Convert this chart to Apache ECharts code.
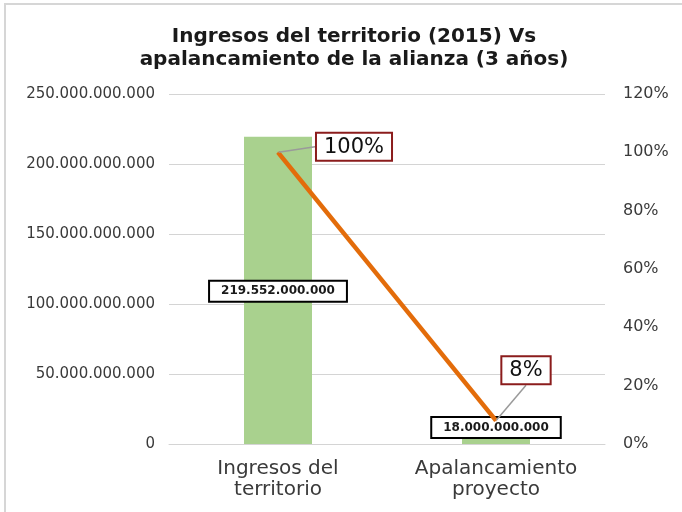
<!DOCTYPE html>
<html>
<head>
<meta charset="utf-8">
<script src="https://cdn.jsdelivr.net/npm/echarts@6/dist/echarts.min.js"></script>
<style>html,body{margin:0;padding:0;background:#fff}#c{width:682px;height:512px}</style>
</head>
<body>
<div id="c"></div>
<script>
const titleText = 'Ingresos del territorio (2015) Vs\napalancamiento de la alianza (3 años)';
const categories = ['Ingresos del\nterritorio', 'Apalancamiento\nproyecto'];
const amounts = [219552000000, 18000000000];
const shares = [1.00, 0.08];
const leftMin = 0, leftMax = 250000000000, leftStep = 50000000000;
const rightMin = 0, rightMax = 1.2, rightStep = 0.2;
// label nudges (pixels) for the percentage callouts and amount boxes
const shareLabelShift = [[76, 13], [30, -32]];
const amountLabelShift = [[0, 1], [0, -4]];

function dots(v) {
  return String(Math.round(v)).replace(/\B(?=(\d{3})+(?!\d))/g, '.');
}
const FONT = 'DejaVu Sans';
const chart = echarts.init(document.getElementById('c'), null, {renderer: 'canvas'});
chart.setOption({
  backgroundColor: '#ffffff',
  animation: false,
  textStyle: {fontFamily: FONT},
  graphic: [{
    type: 'rect', shape: {x: 5, y: 4, width: 720, height: 560},
    style: {fill: 'none', stroke: '#d6d6d6', lineWidth: 2}, silent: true
  }],
  title: {
    text: titleText, left: 349, top: 20, textAlign: 'center', padding: 5,
    textStyle: {fontFamily: FONT, fontWeight: 'bold', fontSize: 20, lineHeight: 23, color: '#1a1a1a'}
  },
  grid: {left: 169, right: 77, top: 94, bottom: 68, containLabel: false},
  xAxis: {
    type: 'category', data: categories,
    axisLine: {show: true, lineStyle: {color: '#d4d4d4', width: 1}},
    axisTick: {show: false},
    axisLabel: {color: '#3a3a3a', fontSize: 20, lineHeight: 21, margin: 14, fontFamily: FONT}
  },
  yAxis: [{
    type: 'value', min: leftMin, max: leftMax, interval: leftStep,
    axisLine: {show: false}, axisTick: {show: false},
    splitLine: {lineStyle: {color: '#d4d4d4', width: 1}},
    axisLabel: {color: '#3a3a3a', fontSize: 15, margin: 14, formatter: v => dots(v)}
  }, {
    type: 'value', min: rightMin, max: rightMax, interval: rightStep,
    axisLine: {show: false}, axisTick: {show: false}, splitLine: {show: false},
    axisLabel: {color: '#3a3a3a', fontSize: 16, margin: 18, formatter: v => Math.round(v * 100) + '%'}
  }],
  series: [{
    type: 'bar', yAxisIndex: 0, barWidth: 68,
    itemStyle: {color: '#a9d18e'},
    data: amounts.map((v, i) => ({
      value: v,
      label: {offset: amountLabelShift[i]}
    })),
    label: {
      show: true, position: 'inside', formatter: p => dots(p.value),
      fontFamily: FONT, fontWeight: 'bold', fontSize: 12, color: '#1a1a1a',
      backgroundColor: '#ffffff', borderColor: '#000000', borderWidth: 2,
      padding: [4, 11, 3, 11]
    },
    z: 2
  }, {
    type: 'line', yAxisIndex: 1, data: shares,
    symbol: 'circle', symbolSize: 1, showSymbol: true,
    itemStyle: {color: '#e36c0a'},
    lineStyle: {color: '#e36c0a', width: 4.5},
    label: {
      show: true, position: 'top', formatter: p => Math.round(p.value * 100) + '%',
      fontFamily: FONT, fontSize: 21, color: '#111111',
      backgroundColor: '#ffffff', borderColor: '#8b1c1c', borderWidth: 2,
      padding: [3, 7, 2, 7]
    },
    labelLine: {show: true, lineStyle: {color: '#9a9a9a', width: 1.5}},
    labelLayout: p => ({dx: shareLabelShift[p.dataIndex][0], dy: shareLabelShift[p.dataIndex][1]}),
    z: 3
  }]
});
</script>
</body>
</html>
